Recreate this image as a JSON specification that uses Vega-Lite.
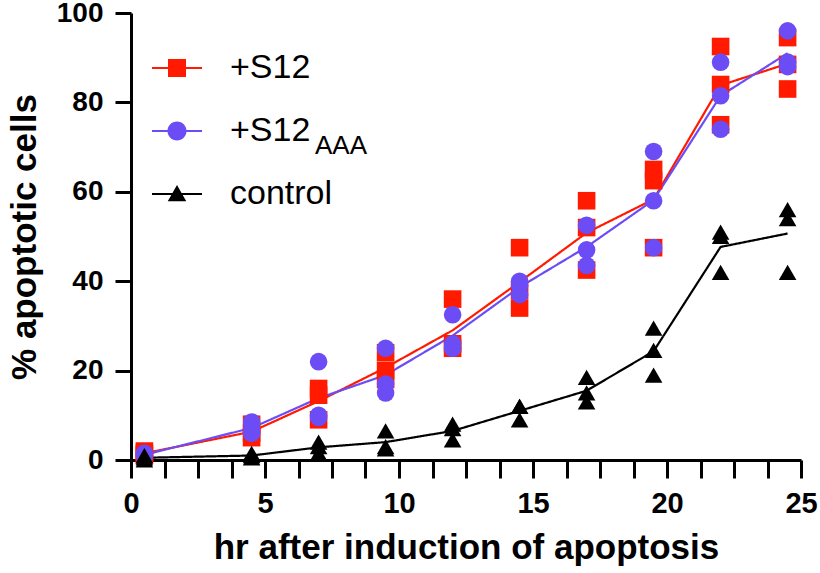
{
  "$schema": "https://vega.github.io/schema/vega-lite/v6.json",
  "width": 670,
  "height": 447,
  "autosize": {"type": "none"},
  "padding": {"left": 131, "top": 13, "right": 19, "bottom": 113},
  "background": "white",
  "config": {"font": "Liberation Sans", "view": {"stroke": null}},
  "data": {"values": [
    {"hr": 0.5, "pct": 2, "series": "+S12"},
    {"hr": 0.5, "pct": 1.5, "series": "+S12"},
    {"hr": 0.5, "pct": 1, "series": "+S12"},
    {"hr": 4.5, "pct": 8, "series": "+S12"},
    {"hr": 4.5, "pct": 6, "series": "+S12"},
    {"hr": 4.5, "pct": 5, "series": "+S12"},
    {"hr": 7, "pct": 16, "series": "+S12"},
    {"hr": 7, "pct": 14.5, "series": "+S12"},
    {"hr": 7, "pct": 9, "series": "+S12"},
    {"hr": 9.5, "pct": 24, "series": "+S12"},
    {"hr": 9.5, "pct": 20, "series": "+S12"},
    {"hr": 9.5, "pct": 18, "series": "+S12"},
    {"hr": 12, "pct": 36, "series": "+S12"},
    {"hr": 12, "pct": 26, "series": "+S12"},
    {"hr": 12, "pct": 25, "series": "+S12"},
    {"hr": 14.5, "pct": 47.5, "series": "+S12"},
    {"hr": 14.5, "pct": 38, "series": "+S12"},
    {"hr": 14.5, "pct": 34, "series": "+S12"},
    {"hr": 17, "pct": 58, "series": "+S12"},
    {"hr": 17, "pct": 52, "series": "+S12"},
    {"hr": 17, "pct": 42.5, "series": "+S12"},
    {"hr": 19.5, "pct": 65, "series": "+S12"},
    {"hr": 19.5, "pct": 62.5, "series": "+S12"},
    {"hr": 19.5, "pct": 47.5, "series": "+S12"},
    {"hr": 22, "pct": 92.5, "series": "+S12"},
    {"hr": 22, "pct": 84, "series": "+S12"},
    {"hr": 22, "pct": 75, "series": "+S12"},
    {"hr": 24.5, "pct": 94.5, "series": "+S12"},
    {"hr": 24.5, "pct": 88.5, "series": "+S12"},
    {"hr": 24.5, "pct": 83, "series": "+S12"},
    {"hr": 0.5, "pct": 1.5, "series": "+S12AAA"},
    {"hr": 0.5, "pct": 1, "series": "+S12AAA"},
    {"hr": 0.5, "pct": 1, "series": "+S12AAA"},
    {"hr": 4.5, "pct": 8.5, "series": "+S12AAA"},
    {"hr": 4.5, "pct": 7, "series": "+S12AAA"},
    {"hr": 4.5, "pct": 6, "series": "+S12AAA"},
    {"hr": 7, "pct": 22, "series": "+S12AAA"},
    {"hr": 7, "pct": 10, "series": "+S12AAA"},
    {"hr": 7, "pct": 9.5, "series": "+S12AAA"},
    {"hr": 9.5, "pct": 25, "series": "+S12AAA"},
    {"hr": 9.5, "pct": 17, "series": "+S12AAA"},
    {"hr": 9.5, "pct": 15, "series": "+S12AAA"},
    {"hr": 12, "pct": 32.5, "series": "+S12AAA"},
    {"hr": 12, "pct": 26, "series": "+S12AAA"},
    {"hr": 12, "pct": 25, "series": "+S12AAA"},
    {"hr": 14.5, "pct": 40, "series": "+S12AAA"},
    {"hr": 14.5, "pct": 39, "series": "+S12AAA"},
    {"hr": 14.5, "pct": 37, "series": "+S12AAA"},
    {"hr": 17, "pct": 52.5, "series": "+S12AAA"},
    {"hr": 17, "pct": 47, "series": "+S12AAA"},
    {"hr": 17, "pct": 43.5, "series": "+S12AAA"},
    {"hr": 19.5, "pct": 69, "series": "+S12AAA"},
    {"hr": 19.5, "pct": 58, "series": "+S12AAA"},
    {"hr": 19.5, "pct": 47.5, "series": "+S12AAA"},
    {"hr": 22, "pct": 89, "series": "+S12AAA"},
    {"hr": 22, "pct": 81.5, "series": "+S12AAA"},
    {"hr": 22, "pct": 74, "series": "+S12AAA"},
    {"hr": 24.5, "pct": 96, "series": "+S12AAA"},
    {"hr": 24.5, "pct": 89, "series": "+S12AAA"},
    {"hr": 24.5, "pct": 88, "series": "+S12AAA"},
    {"hr": 0.5, "pct": 0.5, "series": "control"},
    {"hr": 0.5, "pct": 0, "series": "control"},
    {"hr": 0.5, "pct": 1, "series": "control"},
    {"hr": 4.5, "pct": 1.5, "series": "control"},
    {"hr": 4.5, "pct": 1, "series": "control"},
    {"hr": 4.5, "pct": 0.5, "series": "control"},
    {"hr": 7, "pct": 4, "series": "control"},
    {"hr": 7, "pct": 3, "series": "control"},
    {"hr": 7, "pct": 1.5, "series": "control"},
    {"hr": 9.5, "pct": 6.5, "series": "control"},
    {"hr": 9.5, "pct": 3, "series": "control"},
    {"hr": 9.5, "pct": 2.5, "series": "control"},
    {"hr": 12, "pct": 8, "series": "control"},
    {"hr": 12, "pct": 7, "series": "control"},
    {"hr": 12, "pct": 4.5, "series": "control"},
    {"hr": 14.5, "pct": 12, "series": "control"},
    {"hr": 14.5, "pct": 12, "series": "control"},
    {"hr": 14.5, "pct": 9, "series": "control"},
    {"hr": 17, "pct": 18.5, "series": "control"},
    {"hr": 17, "pct": 15, "series": "control"},
    {"hr": 17, "pct": 13, "series": "control"},
    {"hr": 19.5, "pct": 29.5, "series": "control"},
    {"hr": 19.5, "pct": 24.5, "series": "control"},
    {"hr": 19.5, "pct": 19, "series": "control"},
    {"hr": 22, "pct": 50, "series": "control"},
    {"hr": 22, "pct": 51, "series": "control"},
    {"hr": 22, "pct": 42, "series": "control"},
    {"hr": 24.5, "pct": 56, "series": "control"},
    {"hr": 24.5, "pct": 54, "series": "control"},
    {"hr": 24.5, "pct": 42, "series": "control"}
  ]},
  "layer": [
    {
      "mark": {"type": "line", "strokeWidth": 2.2},
      "encoding": {
        "x": {
          "field": "hr", "type": "quantitative",
          "scale": {"domain": [0, 25], "nice": false, "zero": false},
          "axis": {
            "title": "hr after induction of apoptosis",
            "values": [0, 1.25, 2.5, 3.75, 5, 6.25, 7.5, 8.75, 10, 11.25, 12.5, 13.75, 15, 16.25, 17.5, 18.75, 20, 21.25, 22.5, 23.75, 25],
            "tickCount": 30,
            "labelExpr": "datum.value % 5 === 0 ? datum.label : ''",
            "grid": false,
            "tickSize": 18, "labelPadding": 11,
            "domainWidth": 3, "tickWidth": 3, "domainColor": "black", "tickColor": "black",
            "labelFontSize": 29, "labelFontWeight": "bold", "labelColor": "black",
            "labelFlush": false, "labelOverlap": false,
            "titleFontSize": 35, "titleFontWeight": "bold", "titleColor": "black", "titlePadding": 12,
            "encode": {"ticks": {"update": {"y2": {"signal": "datum.value % 5 === 0 ? 18 : 10"}}}}
          }
        },
        "y": {
          "aggregate": "mean", "field": "pct", "type": "quantitative",
          "scale": {"domain": [0, 100], "nice": false},
          "axis": {
            "title": "% apoptotic cells",
            "values": [0, 20, 40, 60, 80, 100],
            "grid": false,
            "tickSize": 16, "labelPadding": 12,
            "domainWidth": 3, "tickWidth": 3, "domainColor": "black", "tickColor": "black",
            "labelFontSize": 28, "labelFontWeight": "bold", "labelColor": "black",
            "labelFlush": false,
            "titleFontSize": 35, "titleFontWeight": "bold", "titleColor": "black", "titlePadding": 14
          }
        },
        "color": {
          "field": "series", "type": "nominal",
          "scale": {"domain": ["+S12", "+S12AAA", "control"], "range": ["#ff1a00", "#6c4cf5", "#000000"]},
          "legend": {
            "title": null, "orient": "none", "legendX": 21, "legendY": 30,
            "labelFontSize": 34, "labelFontWeight": "normal", "labelColor": "black",
            "symbolSize": 2500, "labelOffset": 28, "rowPadding": 21, "padding": 0,
            "labelExpr": "datum.value === '+S12AAA' ? '+S12' : datum.label",
            "encode": {"symbols": {"update": {
              "shape": {"signal": "datum.value === '+S12' ? 'M-1,-0.04H1V0.04H-1ZM-0.36,-0.36H0.36V0.36H-0.36Z' : datum.value === '+S12AAA' ? 'M-1,-0.04H1V0.04H-1ZM-0.38,0A0.38,0.38,0,1,1,0.38,0A0.38,0.38,0,1,1,-0.38,0Z' : 'M-1,-0.04H1V0.04H-1ZM0,-0.36L0.37,0.29L-0.37,0.29Z'"},
              "fill": {"signal": "datum.value === '+S12' ? '#ff1a00' : datum.value === '+S12AAA' ? '#6c4cf5' : '#000000'"},
              "strokeWidth": {"value": 0},
              "opacity": {"value": 1}
            }}}
          }
        },
        "strokeDash": {
          "datum": "AAA",
          "scale": {"domain": ["AAA"], "range": [[1, 0]]},
          "legend": {
            "title": null, "orient": "none", "legendX": 158, "legendY": 120,
            "labelFontSize": 26, "labelFontWeight": "normal", "labelColor": "black",
            "symbolSize": 1, "symbolOpacity": 0, "symbolStrokeWidth": 0, "labelOffset": 0, "padding": 0
          }
        }
      }
    },
    {
      "transform": [{"filter": "datum.series === '+S12'"}],
      "mark": {"type": "point", "filled": true, "opacity": 1, "size": 310, "shape": "square"},
      "encoding": {
        "x": {"field": "hr", "type": "quantitative"},
        "y": {"field": "pct", "type": "quantitative"},
        "color": {"field": "series", "type": "nominal"}
      }
    },
    {
      "transform": [{"filter": "datum.series === '+S12AAA'"}],
      "mark": {"type": "point", "filled": true, "opacity": 1, "size": 310, "shape": "circle"},
      "encoding": {
        "x": {"field": "hr", "type": "quantitative"},
        "y": {"field": "pct", "type": "quantitative"},
        "color": {"field": "series", "type": "nominal"}
      }
    },
    {
      "transform": [{"filter": "datum.series === 'control'"}],
      "mark": {"type": "point", "filled": true, "opacity": 1, "size": 310, "shape": "triangle-up"},
      "encoding": {
        "x": {"field": "hr", "type": "quantitative"},
        "y": {"field": "pct", "type": "quantitative"},
        "color": {"field": "series", "type": "nominal"}
      }
    }
  ]
}
